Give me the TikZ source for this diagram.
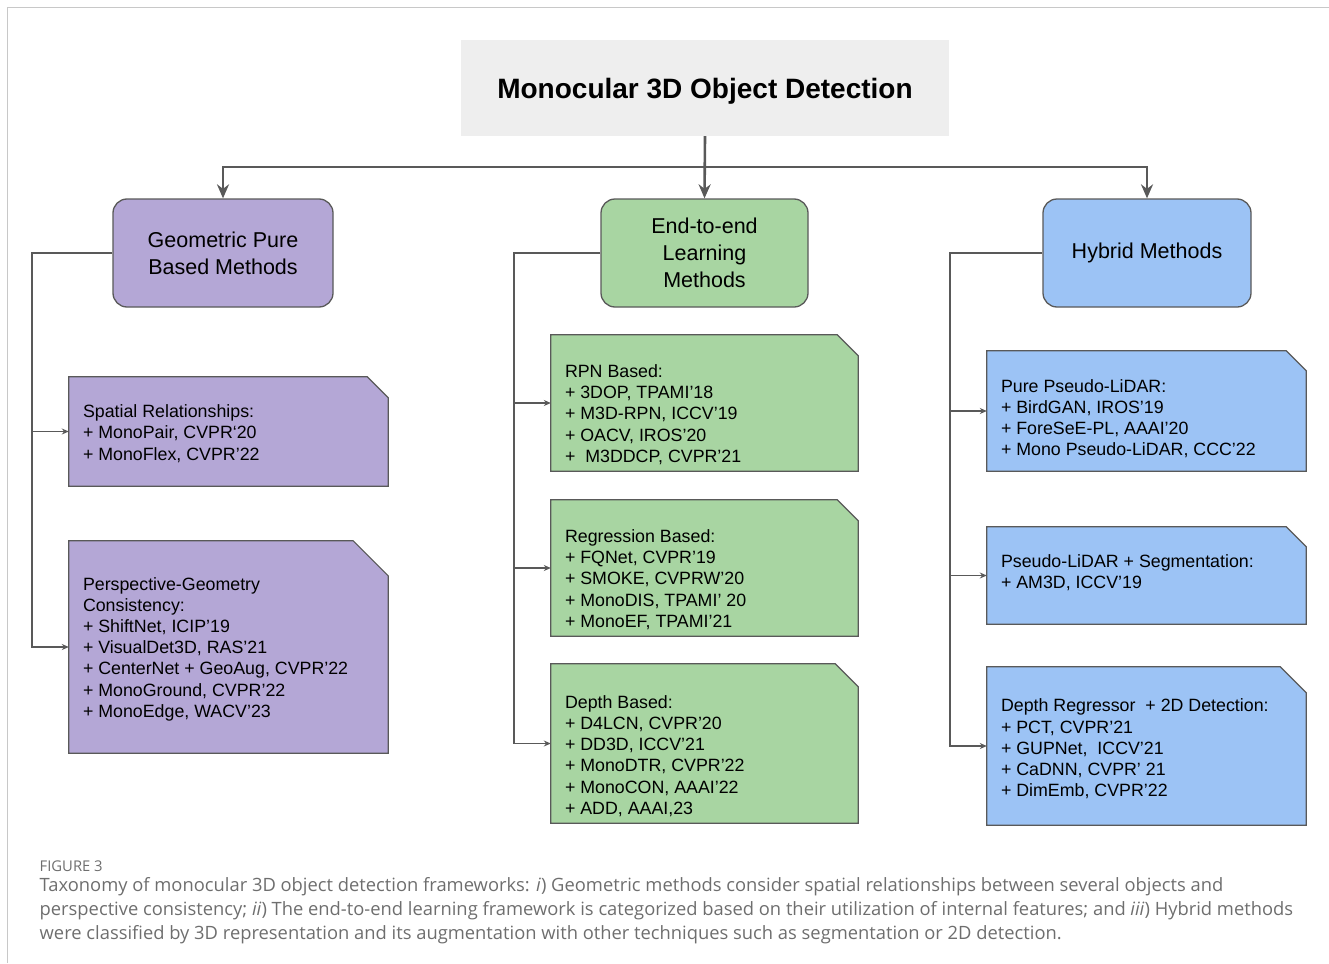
\documentclass[tikz,border=0pt]{standalone}
\usepackage{fontspec}
\setmainfont{Liberation Sans}
\newfontfamily\capfont{Open Sans}
\usetikzlibrary{arrows.meta}
\definecolor{purp}{HTML}{B4A7D6}
\definecolor{grn}{HTML}{A8D5A2}
\definecolor{blu}{HTML}{9CC3F5}
\definecolor{lc}{HTML}{595959}
\definecolor{titlebg}{HTML}{EEEEEE}
\definecolor{framec}{HTML}{C8C8C8}
\definecolor{capc}{HTML}{6E6E6E}
\tikzset{
 cat/.style={draw=lc, line width=1.3pt, rounded corners=14pt, align=center, font=\fontsize{21.5}{27}\selectfont, inner sep=0pt},
 leafbox/.style={inner sep=0pt, draw=none},
 leaftext/.style={align=left, anchor=west, font=\fontsize{17.8}{21.2}\selectfont, inner sep=0pt},
 mainarrow/.style={draw=lc, line width=2.6pt, -{Stealth[length=14pt,width=12pt]}},
 sidearrow/.style={draw=lc, line width=1.5pt, -{Stealth[length=7pt,width=6pt]}},
}
% #1 name #2 x1 #3 y1 #4 x2 #5 y2 #6 cut #7 colour #8 text y offset #9 text
\newcommand\leafnode[9]{%
 \node[leafbox, minimum width={(#4-#2)*1pt}, minimum height={(#5-#3)*1pt}] (#1) at ({(#2+#4)/2},{(#3+#5)/2}) {};
 \filldraw[fill=#7, draw=lc, line width=1.2pt] (#1.south west) -- (#1.north west) -- ([xshift=-#6pt]#1.north east) -- ([yshift=-#6pt]#1.north east) -- (#1.south east) -- cycle;
 \node[leaftext] (#1t) at ([xshift=14pt, yshift={-(#8)*1pt}]#1.west) {#9};
}
\begin{document}
\begin{tikzpicture}[x=1pt,y=-1pt]
\useasboundingbox (0,0) rectangle (1329,963);
\draw[framec, line width=1.5pt] (7.5,963) -- (7.5,7.5) -- (1329,7.5);

\node[fill=titlebg, minimum width=488pt, minimum height=96pt, inner sep=0pt, text depth=0pt, font=\bfseries\fontsize{28}{32}\selectfont] (title) at (705,88) {Monocular 3D Object Detection};

\node[cat, fill=purp, minimum width=220pt, minimum height=108pt] (geo) at (223,253) {Geometric Pure\\Based Methods};
\node[cat, fill=grn, minimum width=207pt, minimum height=108pt] (e2e) at (704.5,253) {End-to-end\\Learning\\Methods};
\node[cat, fill=blu, minimum width=208pt, minimum height=108pt] (hyb) at (1147,253) {Hybrid Methods};

\coordinate (busy) at (0,167);
\draw[mainarrow] (title.south) -- (e2e.north);
\draw[mainarrow] (title.south |- busy) -| (geo.north);
\draw[mainarrow] (title.south |- busy) -| (hyb.north);

\leafnode{spat}{69}{377}{388}{486}{21}{purp}{2}{Spatial Relationships:\\+ MonoPair, CVPR‘20\\+ MonoFlex, CVPR’22}
\leafnode{persp}{69}{541}{388}{753}{35}{purp}{2}{Perspective-Geometry\\Consistency:\\+ ShiftNet, ICIP’19\\+ VisualDet3D, RAS’21\\+ CenterNet + GeoAug, CVPR’22\\+ MonoGround, CVPR’22\\+ MonoEdge, WACV’23}

\leafnode{rpn}{551}{335}{858}{471}{21}{grn}{11.5}{RPN Based:\\+ 3DOP, TPAMI’18\\+ M3D-RPN, ICCV’19\\+ OACV, IROS’20\\+\ \ M3DDCP, CVPR’21}
\leafnode{reg}{551}{500}{858}{636}{21}{grn}{11.5}{Regression Based:\\+ FQNet, CVPR’19\\+ SMOKE, CVPRW’20\\+ MonoDIS, TPAMI’ 20\\+ MonoEF, TPAMI’21}
\leafnode{dep}{551}{664}{858}{823}{23}{grn}{12.5}{Depth Based:\\+ D4LCN, CVPR’20\\+ DD3D, ICCV’21\\+ MonoDTR, CVPR’22\\+ MonoCON, AAAI’22\\+ ADD, AAAI,23}

\leafnode{ppl}{987}{351}{1306}{471}{20}{blu}{7.5}{Pure Pseudo-LiDAR:\\+ BirdGAN, IROS’19\\+ ForeSeE-PL, AAAI’20\\+ Mono Pseudo-LiDAR, CCC’22}
\leafnode{seg}{987}{527}{1306}{624}{20}{blu}{-3}{Pseudo-LiDAR + Segmentation:\\+ AM3D, ICCV’19}
\leafnode{drd}{987}{667}{1306}{825}{26}{blu}{3}{Depth Regressor\ \ + 2D Detection:\\+ PCT, CVPR’21\\+ GUPNet,\ \ ICCV’21\\+ CaDNN, CVPR’ 21\\+ DimEmb, CVPR’22}

\coordinate (gx) at (32,0);
\coordinate (ex) at (514,0);
\coordinate (hx) at (950,0);
\draw[sidearrow] (geo.west) -- (geo.west -| gx) |- (spat.west);
\draw[sidearrow] (geo.west -| gx) |- (persp.west);
\draw[sidearrow] (e2e.west) -- (e2e.west -| ex) |- (rpn.west);
\draw[sidearrow] (e2e.west -| ex) |- (reg.west);
\draw[sidearrow] (e2e.west -| ex) |- (dep.west);
\draw[sidearrow] (hyb.west) -- (hyb.west -| hx) |- (ppl.west);
\draw[sidearrow] (hyb.west -| hx) |- (seg.west);
\draw[sidearrow] (hyb.west -| hx) |- (drd.west);

\node[anchor=west, inner sep=0pt, font=\capfont\fontsize{14.8}{16}\selectfont, text=capc] (fig) at (39.5,866) {FIGURE 3};
\node[anchor=north west, inner sep=0pt, align=left, font=\capfont\fontsize{18.35}{24}\selectfont, text=capc] (cap) at (39.5,877.5) {Taxonomy of monocular 3D object detection frameworks: \textit{i}) Geometric methods consider spatial relationships between several objects and\\perspective consistency; \textit{ii}) The end-to-end learning framework is categorized based on their utilization of internal features; and \textit{iii}) Hybrid methods\\were classified by 3D representation and its augmentation with other techniques such as segmentation or 2D detection.};
\end{tikzpicture}
\end{document}
